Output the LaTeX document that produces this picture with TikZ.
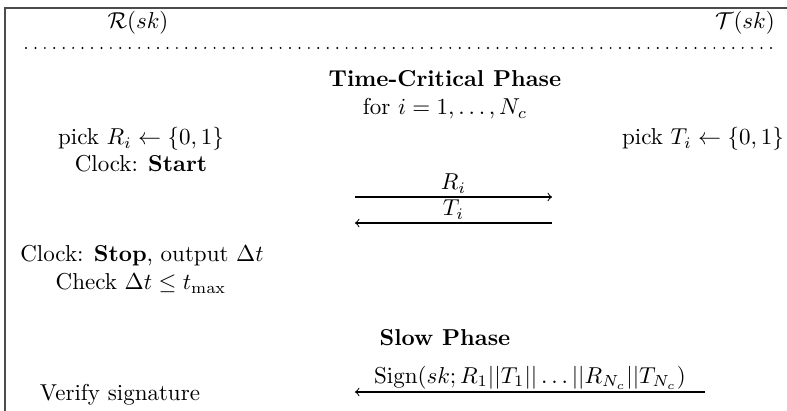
\documentclass[tikz,border=0pt]{standalone}
\usepackage{amsmath}
\begin{document}
\begin{tikzpicture}[x=0.4348pt,y=-0.4348pt,
  txt/.style={anchor=base,inner sep=0pt},
  msg/.style={-to,line width=0.45pt},
  frame/.style={line width=0.6pt,draw=black!70},
  dots/.style={line width=0.95pt,dash pattern=on 0pt off 4.1pt,line cap=round}]
\useasboundingbox (0,0) rectangle (787,411);
% frame
\coordinate (ftop) at (787,8);
\coordinate (fcorner) at (5,8);
\coordinate (fbot) at (5,411);
\draw[frame] (ftop) -- (fcorner) -- (fbot);
% parties
\node[txt] (R) at (138,29) {$\mathcal{R}(sk)$};
\node[txt] (T) at (745,29) {$\mathcal{T}(sk)$};
% dotted separator
\coordinate (d1) at (26,48);
\coordinate (d2) at (778,48);
\draw[dots] (d1) -- (d2);
% time-critical phase
\node[txt] (tcp) at (445,87) {\textbf{Time-Critical Phase}};
\node[txt] (loop) at (445,115) {for $i=1,\ldots,N_c$};
\node[txt] (pickR) at (141,145) {pick $R_i \leftarrow \{0,1\}$};
\node[txt] (start) at (141,172) {Clock: \textbf{Start}};
\node[txt] (pickT) at (703,145) {pick $T_i \leftarrow \{0,1\}$};
\coordinate (m1s) at (355,197);
\coordinate (m1e) at (552,197);
\draw[msg] (m1s) -- node[above=1.5pt,inner sep=0pt] (lR) {$R_i$} (m1e);
\coordinate (m2s) at (552,223);
\coordinate (m2e) at (355,223);
\draw[msg] (m2s) -- node[above=1.5pt,inner sep=0pt] (lT) {$T_i$} (m2e);
\node[txt] (stop) at (142,262) {Clock: \textbf{Stop}, output $\Delta t$};
\node[txt] (check) at (141,290) {Check $\Delta t \le t_{\max}$};
% slow phase
\node[txt] (slow) at (445,346) {\textbf{Slow Phase}};
\coordinate (m3s) at (705,392);
\coordinate (m3e) at (355,392);
\draw[msg] (m3s) -- node[above=1pt,inner sep=0pt] (lS) {$\mathrm{Sign}(sk; R_1||T_1||\ldots||R_{N_c}||T_{N_c})$} (m3e);
\node[txt] (verify) at (120,401) {Verify signature};
\end{tikzpicture}
\end{document}
